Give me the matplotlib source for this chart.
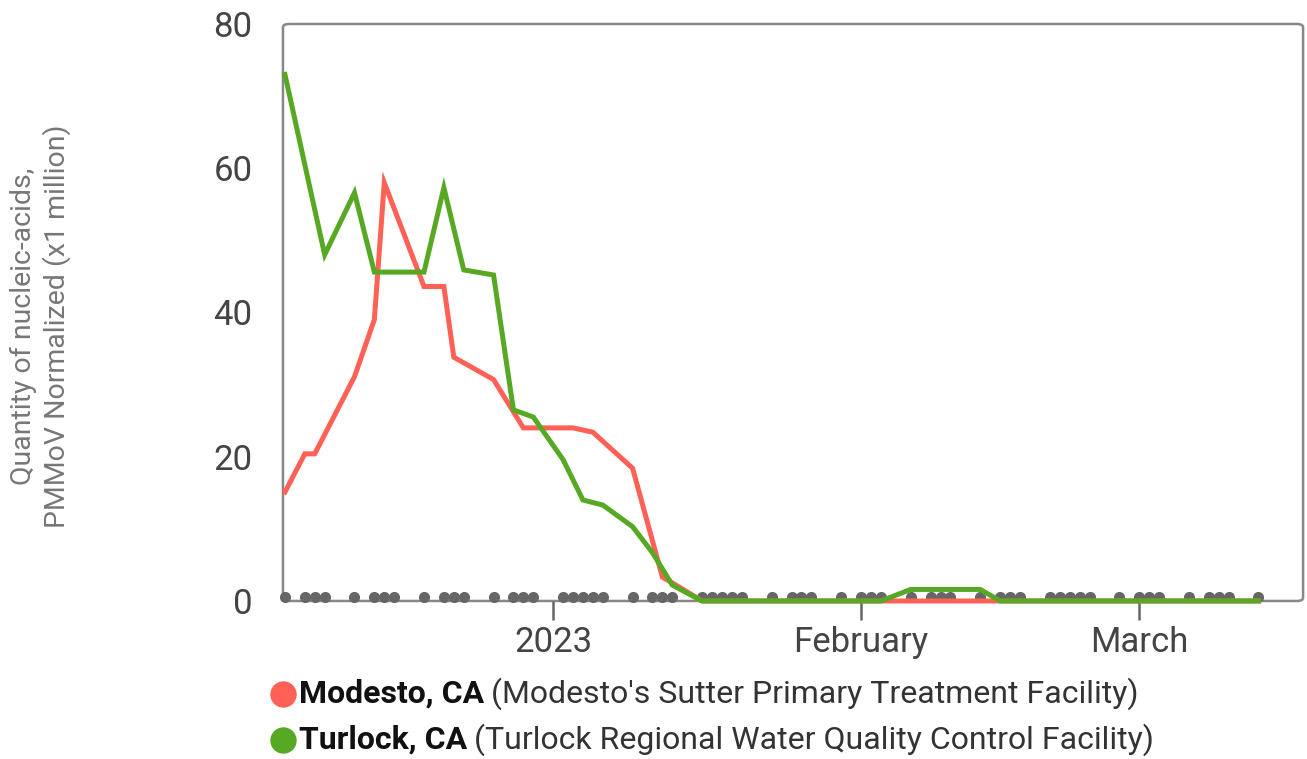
import matplotlib
matplotlib.use('Agg')
import matplotlib.pyplot as plt
import matplotlib.dates as mdates
from matplotlib.patches import FancyBboxPatch
import pandas as pd

# sample dates (grey dots along the bottom)
sample_dates = ['2022-12-05', '2022-12-07', '2022-12-08', '2022-12-09',
                '2022-12-12', '2022-12-14', '2022-12-15', '2022-12-16',
                '2022-12-19', '2022-12-21', '2022-12-22', '2022-12-23',
                '2022-12-26', '2022-12-28', '2022-12-29', '2022-12-30',
                '2023-01-02', '2023-01-03', '2023-01-04', '2023-01-05', '2023-01-06',
                '2023-01-09', '2023-01-11', '2023-01-12', '2023-01-13',
                '2023-01-16', '2023-01-17', '2023-01-18', '2023-01-19', '2023-01-20',
                '2023-01-23', '2023-01-25', '2023-01-26', '2023-01-27',
                '2023-01-30', '2023-02-01', '2023-02-02', '2023-02-03',
                '2023-02-06', '2023-02-08', '2023-02-09', '2023-02-10',
                '2023-02-13', '2023-02-15', '2023-02-16', '2023-02-17',
                '2023-02-20', '2023-02-21', '2023-02-22', '2023-02-23', '2023-02-24',
                '2023-02-27', '2023-03-01', '2023-03-02', '2023-03-03',
                '2023-03-06', '2023-03-08', '2023-03-09', '2023-03-10',
                '2023-03-13']
sample_level = 0.5

# Modesto, CA
modesto_dates = ['2022-12-05', '2022-12-07', '2022-12-08', '2022-12-12', '2022-12-14',
                 '2022-12-15', '2022-12-19', '2022-12-21', '2022-12-22', '2022-12-26',
                 '2022-12-29', '2023-01-03', '2023-01-05', '2023-01-09', '2023-01-12',
                 '2023-01-13', '2023-01-16', '2023-03-13']
modesto_vals = [15.1, 20.4, 20.4, 31.1, 39.0,
                58.0, 43.6, 43.6, 33.8, 30.7,
                24.0, 24.0, 23.4, 18.4, 3.3,
                2.5, 0, 0]

# Turlock, CA
turlock_dates = ['2022-12-05', '2022-12-09', '2022-12-12', '2022-12-14', '2022-12-19',
                 '2022-12-21', '2022-12-23', '2022-12-26', '2022-12-28', '2022-12-30',
                 '2023-01-02', '2023-01-04', '2023-01-06', '2023-01-09', '2023-01-11',
                 '2023-01-13', '2023-01-16', '2023-02-03', '2023-02-06', '2023-02-13',
                 '2023-02-15', '2023-03-13']
turlock_vals = [73.0, 48.0, 56.6, 45.6, 45.6,
                57.3, 45.9, 45.2, 26.5, 25.5,
                19.6, 14.0, 13.3, 10.3, 6.7,
                2.2, 0, 0, 1.6, 1.6,
                0, 0]

tick_dates = ['2023-01-01', '2023-02-01', '2023-03-01']
tick_labels = ['2023', 'February', 'March']

red = '#ff6157'
green = '#57a823'

plt.rcParams['font.family'] = ['Roboto', 'DejaVu Sans']

fig = plt.figure(figsize=(13.07, 7.59), dpi=100)
ax = fig.add_axes([0.2165, 0.2082, 0.7805, 0.7602])

ax.plot(pd.to_datetime(sample_dates), [sample_level] * len(sample_dates), 'o',
        color='#666666', markersize=7, zorder=2, clip_on=False)
ax.plot(pd.to_datetime(modesto_dates), modesto_vals, color=red, lw=3.6,
        zorder=3, solid_joinstyle='miter', clip_on=False)
ax.plot(pd.to_datetime(turlock_dates), turlock_vals, color=green, lw=3.6,
        zorder=4, solid_joinstyle='miter', clip_on=False)

x0 = mdates.date2num(pd.Timestamp('2022-12-05')) - 0.2
x1 = mdates.date2num(pd.Timestamp('2023-01-01')) + 75.5
ax.set_xlim(x0, x1)
ax.set_ylim(0, 80)

ax.set_xticks(mdates.date2num(pd.to_datetime(tick_dates)))
ax.set_xticklabels(tick_labels)
ax.set_yticks([0, 20, 40, 60, 80])
ax.tick_params(axis='x', length=14, width=1.8, color='#666666', labelsize=25,
               labelcolor='#444444', pad=4)
ax.tick_params(axis='y', length=0, labelsize=25, labelcolor='#444444', pad=22)

for s in ax.spines.values():
    s.set_visible(False)
box = FancyBboxPatch((0, 0), 1, 1, boxstyle='round,pad=0,rounding_size=0.006',
                     transform=ax.transAxes, fill=False, edgecolor='#888888',
                     lw=1.8, clip_on=False, zorder=1)
ax.add_patch(box)

fig.text(0.031, 0.57, 'Quantity of nucleic-acids,\nPMMoV Normalized (x1 million)',
         rotation=90, ha='center', va='center', multialignment='center',
         fontsize=20.5, color='#777777', linespacing=1.2)

# legend below the chart
legend_rows = [(red, 'Modesto, CA', "(Modesto's Sutter Primary Treatment Facility)", 694),
               (green, 'Turlock, CA', '(Turlock Regional Water Quality Control Facility)', 740)]
fig.canvas.draw()
renderer = fig.canvas.get_renderer()
for color, bold, rest, ypix in legend_rows:
    yf = 1 - ypix / 759
    fig.lines.append(plt.Line2D([283 / 1307], [yf], marker='o', markersize=18,
                                color=color, transform=fig.transFigure))
    t = fig.text(299 / 1307, yf, bold, fontsize=23, fontweight='bold',
                 color='#111111', va='center')
    bb = t.get_window_extent(renderer)
    fig.text((bb.x1 + 7) / 1307, yf, rest, fontsize=23, color='#333333', va='center')

fig.savefig('out.png', dpi=100)
